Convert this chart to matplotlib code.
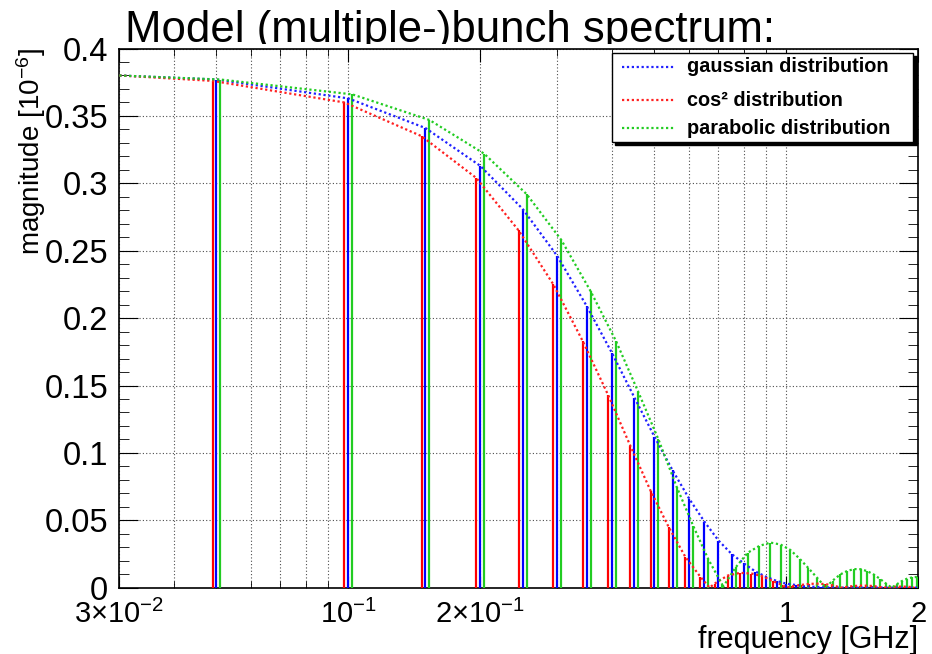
import numpy as np
import matplotlib
matplotlib.use("Agg")
import matplotlib.pyplot as plt
from matplotlib.patches import Rectangle
from matplotlib.transforms import Bbox, TransformedBbox
from matplotlib.ticker import FixedLocator, FixedFormatter, MultipleLocator, FuncFormatter, NullFormatter

plt.rcParams["font.family"] = ["Liberation Sans", "DejaVu Sans"]
plt.rcParams["mathtext.fontset"] = "custom"
plt.rcParams["mathtext.rm"] = "Liberation Sans"
plt.rcParams["mathtext.it"] = "Liberation Sans:italic"
plt.rcParams["mathtext.bf"] = "Liberation Sans:bold"

# bunch repetition frequency [GHz] and harmonic numbers
f_rep = 0.05
harmonic = np.arange(1, 41)

# magnitude [1e-6] of each spectral line
gauss = [0.377, 0.363, 0.341, 0.313, 0.281, 0.246, 0.209, 0.174, 0.141, 0.112,
         0.087, 0.066, 0.049, 0.035, 0.025, 0.018, 0.012, 0.008, 0.005, 0.003,
         0.002, 0.0012, 0.0007, 0.0004, 0.0002, 0.0001, 0.0, 0.0, 0.0, 0.0,
         0.0, 0.0, 0.0, 0.0, 0.0, 0.0, 0.0, 0.0, 0.0, 0.0]
cos2 = [0.376, 0.360, 0.335, 0.304, 0.265, 0.225, 0.183, 0.143, 0.105, 0.072,
        0.045, 0.023, 0.008, 0.003, 0.009, 0.011, 0.0105, 0.0085, 0.005, 0.002,
        0.001, 0.002, 0.0028, 0.003, 0.0027, 0.0018, 0.0004, 0.0006, 0.0012, 0.0015,
        0.0015, 0.0013, 0.0008, 0.0001, 0.0004, 0.0007, 0.0008, 0.0008, 0.0006, 0.0003]
parab = [0.377, 0.366, 0.347, 0.322, 0.292, 0.258, 0.220, 0.183, 0.145, 0.110,
         0.075, 0.046, 0.021, 0.002, 0.015, 0.026, 0.031, 0.0335, 0.032, 0.028,
         0.0215, 0.0145, 0.0075, 0.0007, 0.0053, 0.0098, 0.0125, 0.0138, 0.0137, 0.0122,
         0.0098, 0.0067, 0.0033, 0.0002, 0.0025, 0.005, 0.0068, 0.0077, 0.008, 0.008]

# frequencies where |spectrum| touches zero between lines
cos2_zeros = [0.668, 1.0, 1.333, 1.667]
parab_zeros = [0.715, 1.228, 1.74]

f_start = 0.03
mag_start = 0.38

shift = 1.021  # small offset so the three line sets stay visible


def curve(freqs, mags, zeros):
    f = np.concatenate([[f_start], freqs, zeros])
    m = np.concatenate([[mag_start], mags, np.zeros(len(zeros))])
    order = np.argsort(f)
    return f[order], m[order]


fig = plt.figure(figsize=(9.32, 6.54), dpi=100)
ax = fig.add_axes([0.128, 0.1014, 0.8572, 0.8244])

series = [
    ("gaussian distribution", gauss, [], 1.0, "#0000ff", "#2020ff"),
    ("cos\u00b2 distribution", cos2, cos2_zeros, 1.0 / shift, "#ff0000", "#ff2020"),
    ("parabolic distribution", parab, parab_zeros, shift, "#22cc22", "#22cc22"),
]

for name, mags, zeros, fac, lcol, ccol in series:
    freqs = harmonic * f_rep * fac
    ax.vlines(freqs, 0, mags, color=lcol, lw=1.6, zorder=3)
for name, mags, zeros, fac, lcol, ccol in series:
    freqs = harmonic * f_rep * fac
    cf, cm = curve(freqs, mags, zeros)
    ax.plot(cf, cm, color=ccol, lw=1.6, dashes=(1, 1.2), zorder=4)

ax.set_xscale("log")
ax.set_xlim(0.03, 2)
ax.set_ylim(0, 0.4)

major_x = [0.03, 0.1, 0.2, 1, 2]
minor_x = [0.04, 0.05, 0.06, 0.07, 0.08, 0.09, 0.3, 0.4, 0.5, 0.6, 0.7, 0.8, 0.9]
ax.xaxis.set_major_locator(FixedLocator(major_x))
ax.xaxis.set_major_formatter(FixedFormatter(
    [r"$3{\times}10^{-2}$", r"$10^{-1}$", r"$2{\times}10^{-1}$", "1", "2"]))
ax.xaxis.set_minor_locator(FixedLocator(minor_x))
ax.xaxis.set_minor_formatter(NullFormatter())
ax.yaxis.set_major_locator(MultipleLocator(0.05))
ax.yaxis.set_minor_locator(MultipleLocator(0.01))
ax.yaxis.set_major_formatter(FuncFormatter(lambda v, p: "%g" % round(v, 3)))

ax.tick_params(which="both", direction="in", top=True, right=True)
ax.tick_params(axis="x", which="major", length=9, pad=9, labelsize=21)
ax.tick_params(axis="x", which="minor", length=5)
ax.tick_params(axis="y", which="major", length=14, pad=8, labelsize=23.5)
ax.tick_params(axis="y", which="minor", length=7)

grid_kw = dict(color="0.3", lw=0.8, dashes=(1, 2))
ax.grid(True, axis="x", which="both", **grid_kw)
ax.grid(True, axis="y", which="major", **grid_kw)
ax.set_axisbelow(True)
for s in ax.spines.values():
    s.set_linewidth(1.2)

ax.set_xlabel("frequency [GHz]", fontsize=22, ha="right")
ax.xaxis.set_label_coords(1.0, -0.069)
ax.xaxis.label.set_va("top")
ax.set_ylabel(r"magnitude [$10^{-6}$]", fontsize=20, loc="top")
ax.yaxis.set_label_coords(-0.089, 1.0)

# legend box in the ROOT style (white box with a shadow)
lx0, lx1, ly0, ly1 = 0.6166, 0.9939, 0.8266, 0.9922
ax.add_patch(Rectangle((lx0 + 0.004, ly0 - 0.0056), lx1 - lx0, ly1 - ly0,
                       transform=ax.transAxes, facecolor="black", edgecolor="black",
                       zorder=8, clip_on=False))
ax.add_patch(Rectangle((lx0, ly0), lx1 - lx0, ly1 - ly0, transform=ax.transAxes,
                       facecolor="white", edgecolor="black", lw=1.0, zorder=9,
                       clip_on=False))
entry_y = [0.9662, 0.9045, 0.852]
for (name, mags, zeros, fac, lcol, ccol), yy in zip(series, entry_y):
    ax.plot([0.629, 0.6955], [yy, yy], color=ccol, lw=1.6, dashes=(1, 1.2),
            transform=ax.transAxes, zorder=10, clip_on=False)
    ax.text(0.711, yy, name, transform=ax.transAxes, fontsize=14.3,
            fontweight="bold", va="center", ha="left", zorder=10)

title = fig.text(0.134, 0.9358, "Model (multiple-)bunch spectrum:", fontsize=31.5,
                 va="baseline", ha="left")
title.set_clip_box(TransformedBbox(Bbox([[0, 0.9327], [1, 1]]), fig.transFigure))
title.set_clip_on(True)

fig.savefig("out.png", dpi=100)
plt.close(fig)
